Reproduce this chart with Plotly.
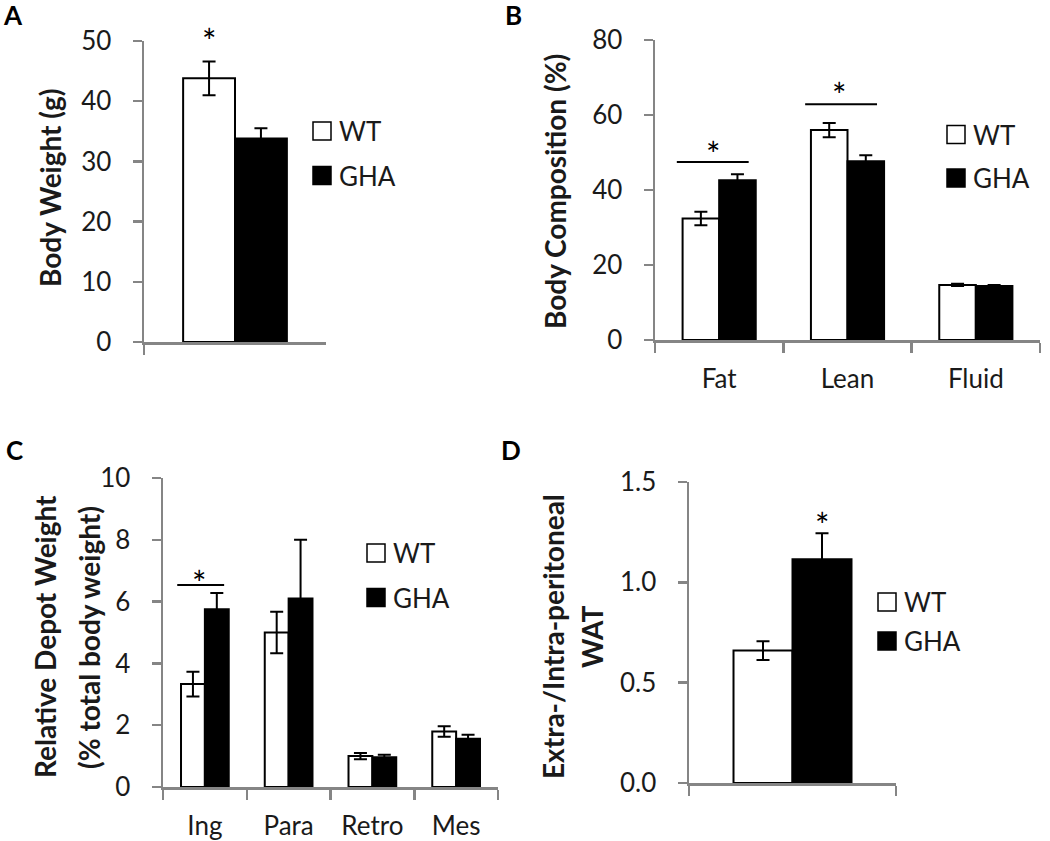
import plotly.graph_objects as go

W, H = 1050, 841
FONT = "Lato"
GREY = "#858585"

# ---------------- data ----------------
groups = ["WT", "GHA"]

a_cats = ["Body Weight"]
a_wt = [43.8]
a_wt_err = [2.8]
a_gha = [33.8]
a_gha_err = [1.7]

b_cats = ["Fat", "Lean", "Fluid"]
b_wt = [32.4, 56.0, 14.7]
b_wt_err = [1.8, 1.9, 0.3]
b_gha = [42.6, 47.7, 14.4]
b_gha_err = [1.6, 1.6, 0.3]

c_cats = ["Ing", "Para", "Retro", "Mes"]
c_wt = [3.33, 5.0, 1.0, 1.8]
c_wt_err = [0.4, 0.67, 0.1, 0.17]
c_gha = [5.75, 6.1, 0.96, 1.56]
c_gha_err = [0.53, 1.9, 0.08, 0.13]

d_cats = ["WAT"]
d_wt = [0.66]
d_wt_err = [0.047]
d_gha = [1.115]
d_gha_err = [0.13]

fig = go.Figure()


def add_pair(cats, wt, wt_err, gha, gha_err, xa, ya):
    for name, vals, errs, fill in [("WT", wt, wt_err, "white"), ("GHA", gha, gha_err, "black")]:
        fig.add_trace(go.Bar(
            x=cats, y=vals, name=name, xaxis=xa, yaxis=ya, showlegend=False,
            marker=dict(color=fill, line=dict(color="black", width=2)),
            error_y=dict(type="data", array=errs, visible=True, color="black",
                         thickness=2, width=6.5),
            hoverinfo="x+y+name",
        ))


add_pair(a_cats, a_wt, a_wt_err, a_gha, a_gha_err, "x", "y")
add_pair(b_cats, b_wt, b_wt_err, b_gha, b_gha_err, "x2", "y2")
add_pair(c_cats, c_wt, c_wt_err, c_gha, c_gha_err, "x3", "y3")
add_pair(d_cats, d_wt, d_wt_err, d_gha, d_gha_err, "x4", "y4")


def xdom(a, b):
    return [a / W, b / W]


def ydom(top, bottom):
    return [1 - bottom / H, 1 - top / H]


def yax(dom, anchor, rng, dtick, fmt=None):
    d = dict(domain=dom, anchor=anchor, range=rng, dtick=dtick, tick0=0,
             showline=True, linecolor=GREY, linewidth=2.5,
             ticks="outside", ticklen=9, tickcolor=GREY, tickwidth=2.5,
             showgrid=False, zeroline=False, automargin=False,
             tickfont=dict(family=FONT, size=26, color="#1a1a1a"),
             ticklabelstandoff=16, fixedrange=True)
    if fmt:
        d["tickformat"] = fmt
    return d


def xax(dom, anchor, labels=True):
    return dict(domain=dom, anchor=anchor, type="category",
                showline=True, linecolor=GREY, linewidth=2.5,
                ticks="outside", ticklen=10, tickcolor=GREY, tickwidth=2.5,
                tickson="boundaries", showgrid=False, zeroline=False,
                showticklabels=labels, automargin=False,
                tickfont=dict(family=FONT, size=26, color="#1a1a1a"),
                ticklabelstandoff=14, fixedrange=True)


layout = dict(
    template="none",
    width=W, height=H,
    margin=dict(l=0, r=0, t=0, b=0, autoexpand=False),
    paper_bgcolor="white", plot_bgcolor="white",
    barmode="group", bargap=0.43, bargroupgap=0,
    xaxis=xax(xdom(144, 326), "y", labels=False),
    yaxis=yax(ydom(41, 342), "x", [0, 50], 10),
    xaxis2=xax(xdom(655, 1040), "y2"),
    yaxis2=yax(ydom(40, 340), "x2", [0, 80], 20),
    xaxis3=xax(xdom(163, 498), "y3"),
    yaxis3=yax(ydom(478, 787), "x3", [0, 10], 2),
    xaxis4=xax(xdom(689, 896), "y4", labels=False),
    yaxis4=yax(ydom(482, 783), "x4", [0, 1.5], 0.5, ".1f"),
    font=dict(family=FONT, color="#1a1a1a"),
    showlegend=False,
)
fig.update_layout(**layout)

annotations = []
shapes = []

# panel letters
for txt, x, y in [("A", 13, 15), ("B", 513, 15), ("C", 14, 450), ("D", 511, 450)]:
    annotations.append(dict(text=txt, x=x / W, y=1 - y / H, xref="paper", yref="paper",
                            showarrow=False, xanchor="center", yanchor="middle",
                            font=dict(family=FONT, size=26, color="black", weight="bold")))

# y-axis titles (rotated)
for txt, x, y in [("Body Weight (g)", 50, 188),
                  ("Body Composition (%)", 555, 192),
                  ("Relative Depot Weight", 45, 637),
                  ("(% total body weight)", 89, 638),
                  ("Extra-/Intra-peritoneal", 553, 637),
                  ("WAT", 592, 637)]:
    annotations.append(dict(text=txt, x=x / W, y=1 - y / H, xref="paper", yref="paper",
                            showarrow=False, textangle=-90, xanchor="center", yanchor="middle",
                            font=dict(family=FONT, size=28, color="#1a1a1a", weight="bold")))

# legends (boxes + text)
for bx, y_wt, y_gha in [(313, 131, 175.5), (947, 134.5, 178), (367, 553, 597.5), (878, 602, 641)]:
    for yc, fill, label in [(y_wt, "white", "WT"), (y_gha, "black", "GHA")]:
        shapes.append(dict(type="rect", xref="paper", yref="paper",
                           x0=bx / W, x1=(bx + 18) / W,
                           y0=1 - (yc + 9) / H, y1=1 - (yc - 9) / H,
                           fillcolor=fill, line=dict(color="black", width=1.5)))
        annotations.append(dict(text=label, x=(bx + 24) / W, y=1 - yc / H,
                                xref="paper", yref="paper", showarrow=False,
                                xanchor="left", yanchor="middle",
                                font=dict(family=FONT, size=26, color="#1a1a1a")))

# significance bars (category index coords)
sig_lines = [("x2", "y2", 0, 47.5), ("x2", "y2", 1, 62.9), ("x3", "y3", 0, 6.54)]
for xr, yr, ci, yv in sig_lines:
    shapes.append(dict(type="line", xref=xr, yref=yr, x0=ci - 0.33, x1=ci + 0.23,
                       y0=yv, y1=yv, line=dict(color="black", width=2)))

# asterisks (y given as fraction of each axis range, via "domain" refs)
stars = [("x", "y", -0.1425, 51.2, 50), ("x2", "y2", -0.05, 51.5, 80), ("x2", "y2", 0.93, 67.2, 80),
         ("x3", "y3", -0.07, 6.86, 10), ("x4", "y4", 0.1425, 1.325, 1.5)]
for xr, yr, xv, yv, ymax in stars:
    annotations.append(dict(text="*", x=xv, y=yv / ymax, xref=xr, yref=yr + " domain",
                            showarrow=False,
                            xanchor="center", yanchor="middle", yshift=-7,
                            font=dict(family=FONT, size=34, color="black")))

fig.update_layout(annotations=annotations, shapes=shapes)
fig.write_html("out.html",
               config={"displayModeBar": False, "staticPlot": True},
               post_script="document.body.style.margin='0';document.body.style.overflow='hidden';")
